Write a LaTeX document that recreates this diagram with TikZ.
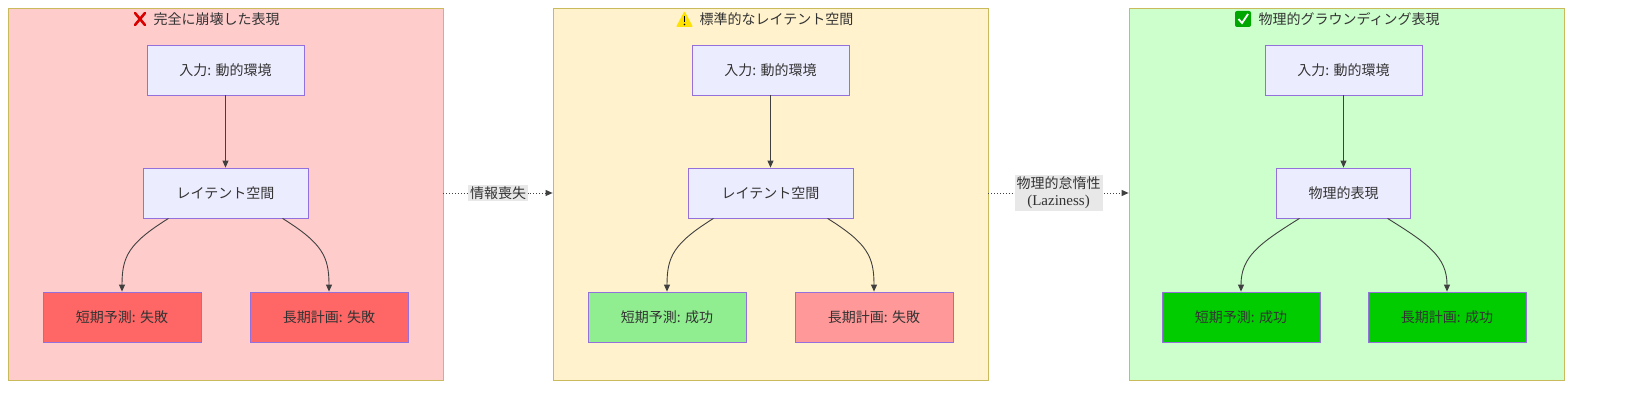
\documentclass[tikz,border=0pt]{standalone}
\usepackage{fontspec}
\setmainfont{Liberation Serif}
\newfontfamily\jp{Noto Sans CJK JP}
\usetikzlibrary{arrows.meta}
\definecolor{pred}{HTML}{FFCCCC}
\definecolor{pyel}{HTML}{FFF2CC}
\definecolor{pgrn}{HTML}{CCFFCC}
\definecolor{pstroke}{HTML}{C9BA5C}
\definecolor{nfill}{HTML}{ECECFF}
\definecolor{nstroke}{HTML}{9370DB}
\definecolor{fail}{HTML}{FF6666}
\definecolor{okl}{HTML}{90EE90}
\definecolor{failp}{HTML}{FF9999}
\definecolor{okd}{HTML}{00CC00}
\definecolor{lbl}{HTML}{E8E8E8}
\begin{document}
\begin{tikzpicture}[x=1pt,y=-1pt,
 panel/.style={draw=pstroke,line width=0.8pt,minimum width=435pt,minimum height=372pt,inner sep=0},
 box/.style={draw=nstroke,line width=0.8pt,fill=nfill,minimum height=50pt,inner sep=0,font=\jp\fontsize{14}{17}\selectfont,text=black!80},
 ttl/.style={font=\jp\fontsize{14}{17}\selectfont,text=black!80},
 arr/.style={draw=black!75,line width=0.9pt,-{Triangle[length=7pt,width=6pt]}},
 dot/.style={arr,dotted},
 el/.style={fill=lbl,inner sep=2pt,font=\jp\fontsize{14}{17}\selectfont,text=black!80,align=center}]
\node[panel,fill=pred] (P1) at (225.5,194) {};
\node[panel,fill=pyel] (P2) at (770.5,194) {};
\node[panel,fill=pgrn] (P3) at (1346.5,194) {};
% titles
\node[ttl,anchor=west] (T1) at (150,19) {完全に崩壊した表現};
\node[ttl,anchor=west] (T2) at (696,19) {標準的なレイテント空間};
\node[ttl,anchor=west] (T3) at (1255,19) {物理的グラウンディング表現};
% icons
\draw[red!85!black,line width=2.6pt,line cap=round] (135,13)--(145,25) (145,13)--(135,25);
\fill[yellow!85!orange,rounded corners=1pt] (676,27)--(693,27)--(684.5,11)--cycle;
\draw[black,line width=1.3pt] (684.5,16)--(684.5,22); \fill (684.5,24.5) circle (0.8pt);
\fill[green!65!black,rounded corners=2pt] (1235,11) rectangle (1251,27);
\draw[white,line width=1.8pt] (1238.5,19)--(1242,23)--(1248,14);
% panel 1
\node[box,minimum width=157pt] (a1) at (225.5,70) {入力: 動的環境};
\node[box,minimum width=165pt] (b1) at (225.5,193) {レイテント空間};
\node[box,minimum width=158pt,fill=fail] (c1) at (122,317) {短期予測: 失敗};
\node[box,minimum width=158pt,fill=fail] (d1) at (329,317) {長期計画: 失敗};
% panel 2
\node[box,minimum width=157pt] (a2) at (770.5,70) {入力: 動的環境};
\node[box,minimum width=165pt] (b2) at (770.5,193) {レイテント空間};
\node[box,minimum width=158pt,fill=okl] (c2) at (667,317) {短期予測: 成功};
\node[box,minimum width=158pt,fill=failp] (d2) at (874,317) {長期計画: 失敗};
% panel 3
\node[box,minimum width=157pt] (a3) at (1343.5,70) {入力: 動的環境};
\node[box,minimum width=134pt] (b3) at (1343.5,193) {物理的表現};
\node[box,minimum width=158pt,fill=okd] (c3) at (1241,317) {短期予測: 成功};
\node[box,minimum width=158pt,fill=okd] (d3) at (1447,317) {長期計画: 成功};
% edges
\foreach \i/\dx in {1/57,2/57,3/44}{
 \draw[arr] (a\i) -- (b\i);
 \draw[arr] ([xshift=-\dx pt]b\i.south) .. controls +(-40,25) and +(0,-35) .. (c\i.north);
 \draw[arr] ([xshift=\dx pt]b\i.south) .. controls +(40,25) and +(0,-35) .. (d\i.north);
}
\draw[dot] (P1.east|-b1) -- node[el] (L1) {情報喪失} (P2.west|-b2);
\draw[dot] (P2.east|-b2) -- node[el] (L2) {物理的怠惰性\\{\rmfamily\fontsize{15}{18}\selectfont(Laziness)}} (P3.west|-b2);
\pgfresetboundingbox
\useasboundingbox (0,0) rectangle (1630,403);
\end{tikzpicture}
\end{document}
